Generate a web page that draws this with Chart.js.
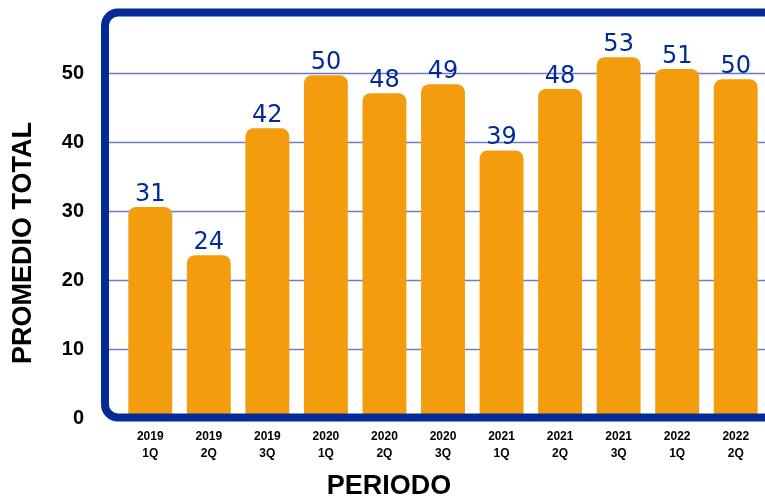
<!DOCTYPE html>
<html>
<head>
<meta charset="utf-8">
<script src="https://cdn.jsdelivr.net/npm/chart.js@4"></script>
<style>
    body { margin: 0; background: #fff; }
    .wrap { width: 765px; height: 499px; }
</style>
</head>
<body>
<div class="wrap"><canvas id="promedioChart"></canvas></div>
<script>
const periods = [
    ['2019', '1Q'], ['2019', '2Q'], ['2019', '3Q'],
    ['2020', '1Q'], ['2020', '2Q'], ['2020', '3Q'],
    ['2021', '1Q'], ['2021', '2Q'], ['2021', '3Q'],
    ['2022', '1Q'], ['2022', '2Q']
];
const promedio = [30.6, 23.6, 42.0, 49.7, 47.1, 48.4, 38.8, 47.7, 52.3, 50.6, 49.1];
const promedioLabels = ['31', '24', '42', '50', '48', '49', '39', '48', '53', '51', '50'];
const yTicks = [0, 10, 20, 30, 40, 50];

const FONT = "'Liberation Sans', Arial, sans-serif";
const BLUE = '#032b96';

const framePlugin = {
    id: 'frame',
    beforeDatasetsDraw(chart) {
        const { ctx, scales: { y } } = chart;
        ctx.save();
        ctx.strokeStyle = '#6a7ec8';
        ctx.lineWidth = 1.5;
        yTicks.forEach(v => {
            if (v === 0) return;
            const py = Math.round(y.getPixelForValue(v)) + 0.5;
            ctx.beginPath();
            ctx.moveTo(109, py);
            ctx.lineTo(chart.width, py);
            ctx.stroke();
        });
        ctx.restore();
    },
    afterDatasetsDraw(chart) {
        const { ctx } = chart;
        // frame round the plot, open on the right
        ctx.save();
        ctx.strokeStyle = BLUE;
        ctx.lineWidth = 8;
        ctx.beginPath();
        ctx.roundRect(105, 12.5, 760, 405, 13);
        ctx.stroke();

        // value labels
        const meta = chart.getDatasetMeta(0);
        ctx.fillStyle = BLUE;
        ctx.font = "24px 'DejaVu Sans', sans-serif";
        ctx.textAlign = 'center';
        ctx.textBaseline = 'alphabetic';
        meta.data.forEach((bar, i) => {
            ctx.fillText(promedioLabels[i], bar.x, bar.y - 6);
        });

        // axis titles
        ctx.fillStyle = '#000';
        ctx.font = 'bold 27px ' + FONT;
        ctx.textBaseline = 'middle';
        ctx.fillText('PERIODO', 389, 487);
        ctx.translate(24, 243);
        ctx.rotate(-Math.PI / 2);
        ctx.fillText('PROMEDIO TOTAL', 0, 0);
        ctx.restore();
    }
};

new Chart(document.getElementById('promedioChart'), {
    type: 'bar',
    data: {
        labels: periods,
        datasets: [{
            data: promedio,
            backgroundColor: '#f39c0e',
            borderWidth: 0,
            borderRadius: 8,
            borderSkipped: 'start',
            barPercentage: 0.75,
            categoryPercentage: 1
        }]
    },
    options: {
        responsive: true,
        maintainAspectRatio: false,
        animation: false,
        layout: { padding: { top: 12, right: 0, left: 0, bottom: 0 } },
        scales: {
            x: {
                offset: true,
                grid: { display: false, drawTicks: false },
                border: { display: false },
                ticks: {
                    color: '#000',
                    font: { family: FONT, size: 12, weight: 'bold', lineHeight: 1.35 },
                    padding: 11,
                    maxRotation: 0,
                    autoSkip: false
                },
                afterFit(scale) { scale.height = 81; }
            },
            y: {
                min: 0,
                // the wide tick padding pushes the plot top down to ~49px
                max: 53.5,
                grid: { display: false, drawTicks: false },
                border: { display: false },
                ticks: {
                    stepSize: 10,
                    color: '#000',
                    font: { family: FONT, size: 20, weight: 'bold' },
                    padding: 37
                },
                afterBuildTicks(scale) {
                    scale.ticks = yTicks.map(v => ({ value: v }));
                },
                afterFit(scale) { scale.width = 121; }
            }
        },
        plugins: {
            legend: { display: false },
            tooltip: { enabled: false }
        }
    },
    plugins: [framePlugin]
});
</script>
</body>
</html>
